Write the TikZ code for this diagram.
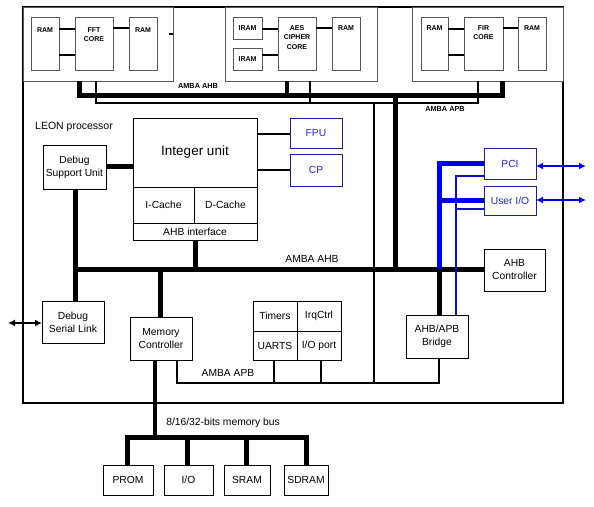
\documentclass[tikz,border=0pt]{standalone}
\usepackage{fontspec}
\setmainfont{Liberation Sans}
\usetikzlibrary{arrows.meta}
\definecolor{navyb}{RGB}{30,30,150}
\definecolor{textb}{RGB}{40,40,200}
\definecolor{busb}{RGB}{0,0,230}
\definecolor{thinb}{RGB}{15,15,185}
\newcommand\rbox[7][]{\node[bx,#1,minimum width={(#4)-(#2)},minimum height={(#5)-(#3)}] (#6) at ({((#2)+(#4))/2},{((#3)+(#5))/2}) {#7};}
\begin{document}
\begin{tikzpicture}[x=1pt,y=-1pt,
  font=\fontsize{10.3}{13}\selectfont,
  bx/.style={draw, line width=1pt, inner sep=0pt, outer sep=0pt, fill=white, align=center},
  ip/.style={draw=black!65, line width=1pt},
  small/.style={font=\bfseries\fontsize{7}{9.5}\selectfont, inner sep=0pt, align=center, anchor=north},
  blu/.style={draw=navyb, text=textb},
  bus/.style={line width=5pt, line join=miter},
  conn/.style={line width=2.5pt},
  thinl/.style={line width=1.3pt},
  bthick/.style={line width=5pt, draw=busb, line join=miter},
  bthin/.style={line width=1.8pt, draw=thinb, line join=miter},
  barrow/.style={line width=2pt, draw=busb, {Latex[length=7pt,width=7pt]}-{Latex[length=7pt,width=7pt]}},
  karrow/.style={line width=2pt, {Latex[length=7pt,width=7pt]}-{Latex[length=7pt,width=7pt]}}
]
\useasboundingbox (0,0) rectangle (594,506);

% main frame
\node[draw, line width=1.3pt, minimum width=540, minimum height=396, anchor=north west, inner sep=0pt, outer sep=0pt] (main) at (23,7) {};

% IP blocks
\rbox[ip]{23}{7}{173}{81}{fft}{}
\rbox[ip]{225}{7}{377}{81}{aes}{}
\rbox[ip]{412}{7}{563}{81}{fir}{}

\rbox[ip]{31}{17}{59}{70}{fftrama}{}
\rbox[ip]{75}{17}{113}{70}{fftcore}{}
\rbox[ip]{129}{17}{157}{70}{fftramb}{}
\node[small] (tfftrama) at ([yshift=-10]fftrama.north) {RAM};
\node[small] (tfftcore) at ([yshift=-10]fftcore.north) {FFT\\CORE};
\node[small] (tfftramb) at ([yshift=-10]fftramb.north) {RAM};

\rbox[ip]{233}{17}{262}{39}{iram1}{}
\rbox[ip]{233}{48}{262}{70}{iram2}{}
\rbox[ip]{278}{17}{316}{70}{aescore}{}
\rbox[ip]{332}{17}{360}{70}{aesram}{}
\node[small] (tiram1) at ([yshift=-8]iram1.north) {IRAM};
\node[small] (tiram2) at ([yshift=-8]iram2.north) {IRAM};
\node[small] (taescore) at ([yshift=-8]aescore.north) {AES\\CIPHER\\CORE};
\node[small] (taesram) at ([yshift=-8]aesram.north) {RAM};

\rbox[ip]{421}{17}{448}{70}{firrama}{}
\rbox[ip]{464}{17}{503}{70}{fircore}{}
\rbox[ip]{518}{17}{546}{70}{firramb}{}
\node[small] (tfirrama) at ([yshift=-8]firrama.north) {RAM};
\node[small] (tfircore) at ([yshift=-8]fircore.north) {FIR\\CORE};
\node[small] (tfirramb) at ([yshift=-8]firramb.north) {RAM};

\draw[conn] (fftrama.east |- 0,29) -- (fftcore.west |- 0,29);
\draw[conn] (fftrama.east |- 0,55) -- (fftcore.west |- 0,55);
\draw[conn] (fftcore.east |- 0,28) -- (fftramb.west |- 0,28);
\draw[line width=2pt] ([xshift=-4pt]fft.east |- 0,34) -- (fft.east |- 0,34);
\draw[conn] (iram1.east |- 0,29) -- (aescore.west |- 0,29);
\draw[conn] (iram2.east |- 0,55) -- (aescore.west |- 0,55);
\draw[conn] (aescore.east |- 0,28) -- (aesram.west |- 0,28);
\draw[conn] (firrama.east |- 0,29) -- (fircore.west |- 0,29);
\draw[conn] (firrama.east |- 0,55) -- (fircore.west |- 0,55);
\draw[conn] (fircore.east |- 0,28) -- (firramb.west |- 0,28);

% processor blocks
\node[font=\fontsize{10.5}{12}\selectfont] (leon) at (74,127) {LEON processor};
\rbox[font=\fontsize{13.5}{15}\selectfont]{133}{118}{257}{187}{iu}{Integer unit}
\rbox{133}{187}{194}{223}{icache}{I-Cache}
\rbox{194}{187}{257}{223}{dcache}{D-Cache}
\rbox{133}{223}{257}{240}{ahbif}{AHB interface}
\rbox{43}{145}{106}{189}{dsu}{Debug\\Support Unit}
\rbox[blu]{290}{118}{342}{148}{fpu}{FPU}
\rbox[blu]{290}{154}{342}{186}{cp}{CP}
\rbox[blu]{484}{148}{536}{179}{pci}{PCI}
\rbox[blu]{484}{186}{536}{215}{uio}{User I/O}
\rbox{484}{249}{545}{291}{ahbc}{AHB\\Controller}
\rbox{42}{301}{104}{343}{dsl}{Debug\\Serial Link}
\rbox{130}{317}{192}{360}{mc}{Memory\\Controller}
\rbox{253}{301}{297}{331}{timers}{Timers}
\rbox{297}{301}{341}{331}{irq}{IrqCtrl}
\rbox{253}{331}{297}{360}{uarts}{UARTS}
\rbox{297}{331}{341}{360}{ioport}{I/O port}
\rbox{406}{315}{468}{358}{bridge}{AHB/APB\\Bridge}
\rbox{103}{465}{153}{495}{prom}{PROM}
\rbox{164}{465}{213}{495}{io}{I/O}
\rbox{224}{465}{270}{495}{sram}{SRAM}
\rbox{284}{465}{328}{495}{sdram}{SDRAM}

% bus labels
\node[font=\bfseries\fontsize{7.3}{9}\selectfont] (ltahb) at (198,86) {AMBA AHB};
\node[font=\bfseries\fontsize{7.3}{9}\selectfont] (ltapb) at (445,109) {AMBA APB};
\node (lahb) at (312,259) {AMBA AHB};
\node (lapb) at (228,373) {AMBA APB};
\node (lmem) at (223,423) {8/16/32-bits memory bus};

% junction coordinates
\coordinate (ahbtop) at (395,95);
\coordinate (ahbmain) at (395,269);
\coordinate (apbtop) at (374,103);
\coordinate (apbbot) at (374,383);
\coordinate (membus) at (155,437);
\coordinate (pciext) at (586,166);
\coordinate (uioext) at (586,200);
\coordinate (dslext) at (8,323);

% top AMBA buses
\draw[bus] (fft.south -| 79,0) -- (79,95) -- (502,95) -- (fir.south -| 502,0);
\draw[line width=4pt] (aes.south -| 287,0) -- (287,95);
\draw[thinl] (fft.south -| 96,0) -- (96,103) -- (478,103) -- (fir.south -| 478,0);
\draw[thinl] (aes.south -| 310,0) -- (310,103);
\draw[bus] (ahbtop) -- (ahbmain);
\draw[thinl] (apbtop) -- (apbbot);

% processor connectors
\draw[bus] (dsu.east |- 0,166) -- (iu.west |- 0,166);
\draw[conn] (iu.east |- 0,134) -- (fpu.west |- 0,134);
\draw[conn] (iu.east |- 0,170) -- (cp.west |- 0,170);

% AHB main bus
\draw[bus] (dsu.south -| 75,0) -- (dsl.north -| 75,0);
\draw[bus] (75,269) -- (ahbc.west |- 0,269);
\draw[bus] (ahbif.south -| 195,0) -- (195,269);
\draw[bus] (mc.north -| 160,0) -- (160,269);

% PCI / User I/O
\draw[bthick] (pci.west |- 0,163) -- (439,163) -- (439,269);
\draw[bthick] (uio.west |- 0,200) -- (439,200);
\draw[bthin] (pci.west |- 0,176) -- (456,176) -- (bridge.north -| 456,0);
\draw[bthin] (uio.west |- 0,209) -- (456,209);
\draw[bus] (439,269) -- (bridge.north -| 439,0);
\draw[barrow] (pci.east |- pciext) -- (pciext);
\draw[barrow] (uio.east |- uioext) -- (uioext);

% debug serial link
\draw[karrow] (dslext) -- (dsl.west |- dslext);

% APB lower bus
\draw[thinl] (mc.south -| 177,0) -- (177,383) -- (439,383) -- (bridge.south -| 439,0);
\draw[thinl] (uarts.south -| 274,0) -- (274,383);
\draw[thinl] (ioport.south -| 321,0) -- (321,383);

% memory bus
\draw[line width=4.5pt] (mc.south -| 155,0) -- (membus);
\draw[bus] (prom.north -| 127,0) -- (127,437) -- (306,437) -- (sdram.north -| 306,0);
\draw[bus] (io.north -| 187,0) -- (187,437);
\draw[bus] (sram.north -| 246,0) -- (246,437);
\end{tikzpicture}
\end{document}
